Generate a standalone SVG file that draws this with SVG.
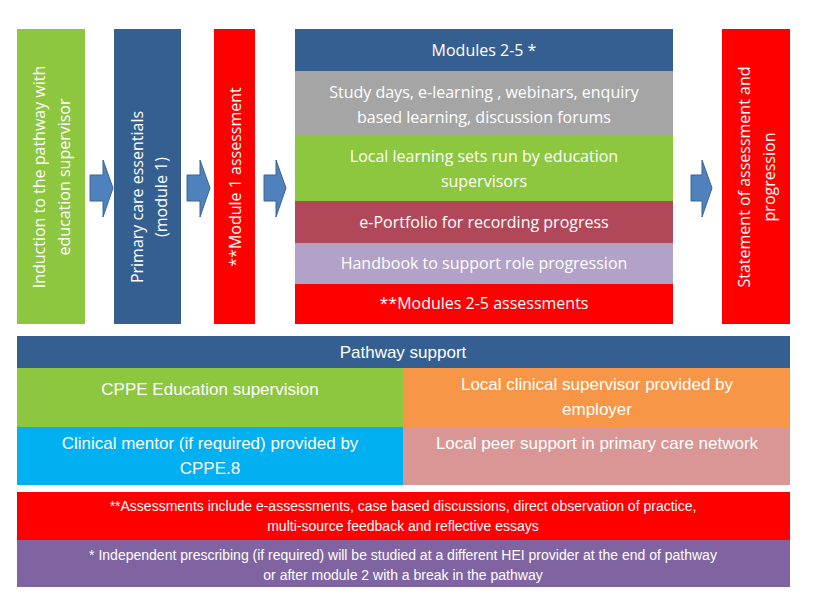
<svg xmlns="http://www.w3.org/2000/svg" width="813" height="602" viewBox="0 0 813 602">
<style>
text{font-family:"Open Sans","Liberation Sans",sans-serif;fill:#fff;text-anchor:middle}
.t{font-size:16px}
.b{font-family:"Liberation Sans Narrow","Liberation Sans",sans-serif;font-size:17px}
.s{font-family:"Liberation Sans Narrow","Liberation Sans",sans-serif;font-size:14px}
.arr{fill:#4f81bd;stroke:#3a6496;stroke-width:1}
</style>
<rect width="813" height="602" fill="#fff"/>
<g id="induction"><rect x="17" y="29" width="68" height="295" fill="#8dc63f"/>
<text class="t" transform="translate(45,177) rotate(-90)">Induction to the pathway with</text>
<text class="t" transform="translate(70,177) rotate(-90)">education supervisor</text></g>
<g id="module1"><rect x="114" y="29" width="67" height="295" fill="#365f91"/>
<text class="t" transform="translate(143,197) rotate(-90)">Primary care essentials</text>
<text class="t" transform="translate(167,197) rotate(-90)">(module 1)</text></g>
<g id="module1assess"><rect x="214" y="29" width="41" height="295" fill="#ff0000"/>
<text class="t" transform="translate(241,177) rotate(-90)">**Module 1 assessment</text></g>
<g id="modules">
<rect x="295" y="29" width="378" height="42" fill="#365f91"/><text class="t" x="484" y="56">Modules 2-5 *</text>
<rect x="295" y="71" width="378" height="64" fill="#a5a5a5"/><text class="t" x="484" y="98">Study days, e-learning , webinars, enquiry</text><text class="t" x="484" y="123">based learning, discussion forums</text>
<rect x="295" y="135" width="378" height="66" fill="#8dc63f"/><text class="t" x="484" y="162">Local learning sets run by education</text><text class="t" x="484" y="187">supervisors</text>
<rect x="295" y="201" width="378" height="42" fill="#b0485a"/><text class="t" x="484" y="228">e-Portfolio for recording progress</text>
<rect x="295" y="243" width="378" height="41" fill="#b3a2c7"/><text class="t" x="484" y="269">Handbook to support role progression</text>
<rect x="295" y="284" width="378" height="40" fill="#ff0000"/><text class="t" x="484" y="309">**Modules 2-5 assessments</text></g>
<g id="statement"><rect x="722" y="29" width="68" height="295" fill="#ff0000"/>
<text class="t" transform="translate(750,177) rotate(-90)">Statement of assessment and</text>
<text class="t" transform="translate(775,177) rotate(-90)">progression</text></g>
<g id="connectors">
<path class="arr" d="M90,175H103V160L113,188L103,217V201H90Z"/>
<path class="arr" d="M187,175H200V160L210,188L200,217V201H187Z"/>
<path class="arr" d="M264,175H276V160L286,188L276,217V201H264Z"/>
<path class="arr" d="M691,175H702V160L712,188L702,217V201H691Z"/>
</g>
<g id="support">
<rect x="17" y="336" width="773" height="32" fill="#365f91"/><text class="b" x="403" y="358">Pathway support</text>
<rect x="17" y="368" width="386" height="59" fill="#8dc63f"/><text class="b" x="210" y="395">CPPE Education supervision</text>
<rect x="403" y="368" width="387" height="59" fill="#f79646"/><text class="b" x="597" y="390">Local clinical supervisor provided by</text><text class="b" x="597" y="415">employer</text>
<rect x="17" y="427" width="386" height="58" fill="#00b0f0"/><text class="b" x="210" y="449">Clinical mentor (if required) provided by</text><text class="b" x="210" y="474">CPPE.8</text>
<rect x="403" y="427" width="387" height="58" fill="#d99694"/><text class="b" x="597" y="449">Local peer support in primary care network</text></g>
<g id="notes">
<rect x="17" y="492" width="773" height="48" fill="#ff0000"/><text class="s" x="403" y="511">**Assessments include e-assessments, case based discussions, direct observation of practice,</text><text class="s" x="403" y="531">multi-source feedback and reflective essays</text>
<rect x="17" y="540" width="773" height="47" fill="#8064a2"/><text class="s" x="403" y="560">* Independent prescribing (if required) will be studied  at a different HEI provider at the end of pathway</text><text class="s" x="403" y="580">or after module 2 with a break in the pathway</text></g>
</svg>
